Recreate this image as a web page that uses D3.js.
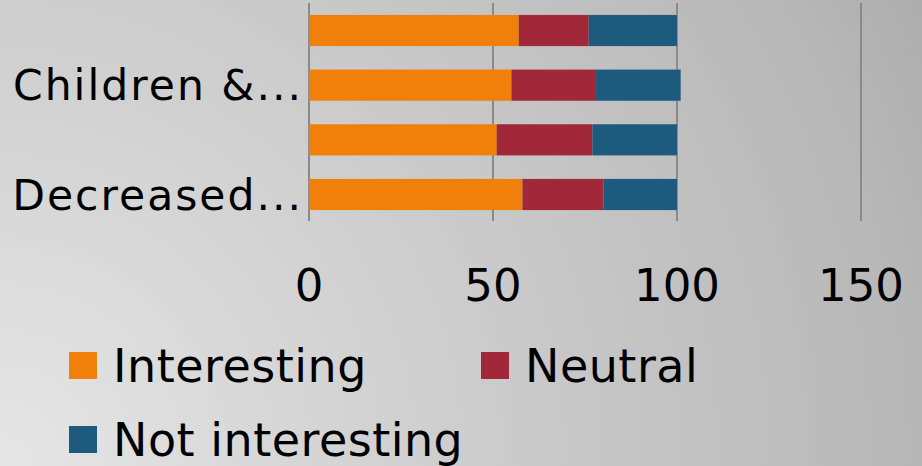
<!DOCTYPE html>
<html>
<head>
<meta charset="utf-8">
<script src="https://cdn.jsdelivr.net/npm/d3@7"></script>
<style>
  html, body { margin: 0; padding: 0; }
  svg { display: block; font-family: "DejaVu Sans", Verdana, sans-serif; }
</style>
</head>
<body>
<div id="chart"></div>
<script>
// bottom to top, like the original
const categories = ["cat1", "cat2", "cat3", "cat4"];
const tickLabels = ["Decreased...", "", "Children &...", ""];
const interesting = [58, 51, 55, 57];
const neutral = [22, 26, 23, 19];
const notInteresting = [20, 23, 23, 24];
const seriesNames = ["Interesting", "Neutral", "Not interesting"];
const xTicks = [0, 50, 100, 150];

const W = 922, H = 466;
const colors = ["#F0800A", "#A02838", "#1E5A7E"];

const svg = d3.select("#chart").append("svg")
  .attr("width", W).attr("height", H);

const defs = svg.append("defs");
const grad = defs.append("radialGradient")
  .attr("id", "bg")
  .attr("gradientUnits", "userSpaceOnUse")
  .attr("cx", 0).attr("cy", H).attr("r", 1040);
grad.append("stop").attr("offset", "0%").attr("stop-color", "#e6e6e6");
grad.append("stop").attr("offset", "45%").attr("stop-color", "#cdcdcd");
grad.append("stop").attr("offset", "88%").attr("stop-color", "#b7b7b7");
grad.append("stop").attr("offset", "100%").attr("stop-color", "#acacac");
svg.append("rect").attr("width", W).attr("height", H).attr("fill", "url(#bg)");

const rows = categories.map((c, i) => ({
  cat: c,
  Interesting: interesting[i],
  Neutral: neutral[i],
  "Not interesting": notInteresting[i]
}));

const x = d3.scaleLinear().domain([0, 150]).range([309, 861]);
const y = d3.scaleBand()
  .domain(categories.slice().reverse())
  .range([4, 221])
  .paddingInner(0.43)
  .paddingOuter(0.2);

// gridlines
svg.append("g").selectAll("line")
  .data(xTicks)
  .join("line")
  .attr("x1", d => x(d)).attr("x2", d => x(d))
  .attr("y1", 3).attr("y2", 221)
  .attr("stroke", "#8a8a8a")
  .attr("stroke-width", 2);

const stack = d3.stack().keys(seriesNames)(rows);

svg.append("g").selectAll("g")
  .data(stack)
  .join("g")
  .attr("fill", (d, i) => colors[i])
  .selectAll("rect")
  .data(d => d)
  .join("rect")
  .attr("x", d => x(d[0]))
  .attr("width", d => x(d[1]) - x(d[0]))
  .attr("y", d => y(d.data.cat))
  .attr("height", y.bandwidth());

// category labels (only every other one is shown, as in the original)
svg.append("g").selectAll("text")
  .data(categories)
  .join("text")
  .attr("x", 303)
  .attr("y", d => y(d) + y.bandwidth() / 2)
  .attr("dy", "0.36em")
  .attr("text-anchor", "end")
  .attr("font-size", 42.5)
  .attr("letter-spacing", 2)
  .attr("fill", "#000")
  .text((d, i) => tickLabels[i]);

// x tick labels
svg.append("g").selectAll("text")
  .data(xTicks)
  .join("text")
  .attr("x", d => x(d))
  .attr("y", 301)
  .attr("text-anchor", "middle")
  .attr("font-size", 45)
  .attr("fill", "#000")
  .text(d => d);

// legend
const legendPos = [[69, 352], [481, 352], [69, 426]];
const leg = svg.append("g").selectAll("g")
  .data(seriesNames)
  .join("g")
  .attr("transform", (d, i) => `translate(${legendPos[i][0]},${legendPos[i][1]})`);
leg.append("rect")
  .attr("width", 28).attr("height", 27)
  .attr("fill", (d, i) => colors[i]);
leg.append("text")
  .attr("x", 44).attr("y", 30)
  .attr("font-size", 46)
  .attr("letter-spacing", 0.5)
  .attr("fill", "#000")
  .text(d => d);
</script>
</body>
</html>
